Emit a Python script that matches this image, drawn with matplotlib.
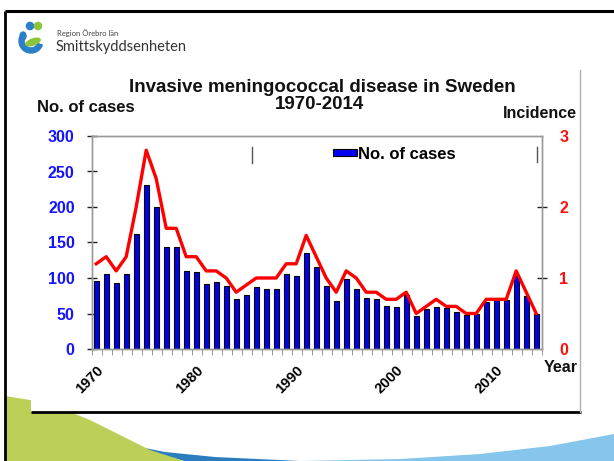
import numpy as np
import matplotlib
matplotlib.use('Agg')
import matplotlib.pyplot as plt
from matplotlib.patches import Polygon, Circle, Rectangle, Wedge, Ellipse

# ---------------- data ----------------
years = list(range(1970, 2015))
cases = [96, 106, 93, 106, 162, 231, 200, 144, 143, 110,
         108, 92, 94, 89, 70, 76, 88, 85, 85, 105,
         103, 135, 115, 89, 67, 99, 85, 72, 70, 61,
         59, 76, 47, 56, 59, 58, 52, 48, 49, 66,
         69, 69, 103, 74, 50]
incidence = [1.2, 1.3, 1.1, 1.3, 2.0, 2.8, 2.4, 1.7, 1.7, 1.3,
             1.3, 1.1, 1.1, 1.0, 0.8, 0.9, 1.0, 1.0, 1.0, 1.2,
             1.2, 1.6, 1.3, 1.0, 0.8, 1.1, 1.0, 0.8, 0.8, 0.7,
             0.7, 0.8, 0.5, 0.6, 0.7, 0.6, 0.6, 0.5, 0.5, 0.7,
             0.7, 0.7, 1.1, 0.8, 0.5]
xtick_years = [1970, 1980, 1990, 2000, 2010]
xtick_labels = ['1970', '1980', '1990', '2000', '2010']
left_ticks = [0, 50, 100, 150, 200, 250, 300]
right_ticks = [0, 1, 2, 3]

plt.rcParams['font.family'] = ['Liberation Sans', 'DejaVu Sans']

W, H = 614, 461
fig = plt.figure(figsize=(W / 100, H / 100), dpi=100)
fig.patch.set_facecolor('white')

# ---------------- background decorations (pixel coords) ----------------
bg = fig.add_axes([0, 0, 1, 1], zorder=0)
bg.set_xlim(0, W)
bg.set_ylim(H, 0)
bg.axis('off')

# bottom swoosh
bg.add_patch(Polygon([(300, 461), (400, 459), (480, 454), (550, 446), (614, 434), (614, 461)],
                     closed=True, facecolor='#86c6ec', edgecolor='none', zorder=1))
bg.add_patch(Polygon([(125, 444), (165, 452), (215, 457), (300, 461), (184, 461), (150, 451)],
                     closed=True, facecolor='#2c7cc0', edgecolor='none', zorder=1))
bg.add_patch(Polygon([(5, 396), (30, 400), (60, 408), (90, 420), (120, 435), (150, 450),
                      (184, 461), (5, 461)],
                     closed=True, facecolor='#bcd057', edgecolor='none', zorder=2))
# white panel
bg.add_patch(Rectangle((31, 60), 549, 352, facecolor='white', edgecolor='none', zorder=3))
# frame lines
bg.plot([5, 614], [11, 11], color='black', lw=2.2, zorder=5, solid_capstyle='butt')
bg.plot([5, 5], [11, 461], color='black', lw=2.0, zorder=5, solid_capstyle='butt')
bg.plot([31, 581], [412, 412], color='black', lw=2.0, zorder=5, solid_capstyle='butt')
bg.plot([580, 580], [70, 412], color='#b0b0b0', lw=1.0, zorder=5)
# legend frame remnants
bg.plot([252, 252], [147, 163], color='#555555', lw=1.0, zorder=5)
bg.plot([537, 537], [147, 162], color='#555555', lw=1.0, zorder=5)

# logo
bg.add_patch(Circle((30, 26), 3.6, color='#2a7fc8', zorder=6))
bg.add_patch(Circle((38, 26), 3.6, color='#8cc43c', zorder=6))
bg.add_patch(Wedge((31, 41), 12, 20, 200, width=5, color='#2a7fc8', zorder=6))
bg.add_patch(Ellipse((33, 42), 15, 6, angle=-20, color='#8cc43c', zorder=7))
bg.add_patch(Ellipse((23, 36), 6, 8, angle=0, color='#2a7fc8', zorder=6))
bg.text(57, 33, 'Region Örebro län', fontsize=5.5, va='center', ha='left',
        color='#444444', family=['Lato', 'DejaVu Sans'], zorder=6)
bg.text(56, 47, 'Smittskyddsenheten', fontsize=10.5, va='center', ha='left',
        color='#333333', family=['Lato', 'DejaVu Sans'], zorder=6)

# titles
bg.text(322, 87, 'Invasive meningococcal disease in Sweden', ha='center', va='center',
        fontsize=13.5, weight='bold', color='#111111', zorder=6)
bg.text(320, 104, '1970-2014', ha='center', va='center',
        fontsize=13.5, weight='bold', color='#111111', zorder=6)
bg.text(37, 107, 'No. of cases', ha='left', va='center',
        fontsize=12, weight='bold', color='#111111', zorder=6)
bg.text(577, 113, 'Incidence', ha='right', va='center',
        fontsize=11.5, weight='bold', color='#111111', zorder=6)
bg.text(544, 367, 'Year', ha='left', va='center',
        fontsize=11.5, weight='bold', color='#111111', zorder=6)

# ---------------- main chart ----------------
ax = fig.add_axes([92 / W, 1 - 349 / H, 450 / W, 213 / H], zorder=2)
ax.set_facecolor('none')
bars = ax.bar(years, cases, width=0.5, color='#0000f0', edgecolor='black', linewidth=0.8, zorder=2)
ax.set_xlim(years[0] - 0.42, years[-1] + 0.58)
ax.set_ylim(0, 300)

ax.set_xticks(xtick_years)
ax.set_xticklabels(xtick_labels, rotation=45, ha='right', va='top', rotation_mode='anchor',
                   fontsize=10.5, weight='bold')
ax.set_xticks(np.arange(years[0], years[-1] + 2) - 0.42, minor=True)
ax.tick_params(axis='x', which='major', length=0, pad=10)
ax.tick_params(axis='x', which='minor', length=4, color='#888888', direction='out')

ax.set_yticks(left_ticks)
ax.set_yticklabels([str(v) for v in left_ticks], fontsize=11.5, weight='bold', color='#1414ff')
ax.tick_params(axis='y', which='major', direction='inout', length=7, width=1.0,
               color='#222222', pad=9)
for v, t in zip(left_ticks, ax.yaxis.get_major_ticks()):
    if v not in (100, 200, 250):
        t.tick1line.set_visible(False)

for s in ax.spines.values():
    s.set_color('#999999')
    s.set_linewidth(1.0)

ax2 = ax.twinx()
ax2.set_zorder(3)
ax2.set_facecolor('none')
ax2.plot(years, incidence, color='#ff0000', lw=2.4, solid_joinstyle='round', zorder=3)
ax2.set_ylim(0, 3)
ax2.set_yticks(right_ticks)
ax2.set_yticklabels([str(v) for v in right_ticks], fontsize=11.5, weight='bold', color='#ff1010')
ax2.tick_params(axis='y', which='major', direction='inout', length=7, width=1.0,
                color='#222222', pad=9)
for v, t in zip(right_ticks, ax2.yaxis.get_major_ticks()):
    if v not in (1, 2):
        t.tick2line.set_visible(False)
for s in ax2.spines.values():
    s.set_color('#999999')
    s.set_linewidth(1.0)

leg = ax2.legend([bars], ['No. of cases'], loc='center left',
                 bbox_to_anchor=(333 / W, 1 - 154 / H), bbox_transform=fig.transFigure,
                 frameon=False, handlelength=1.45, handleheight=0.35, handletextpad=0.05,
                 borderpad=0, borderaxespad=0, prop=dict(weight='bold', size=12))

fig.savefig('out.png', dpi=100)
